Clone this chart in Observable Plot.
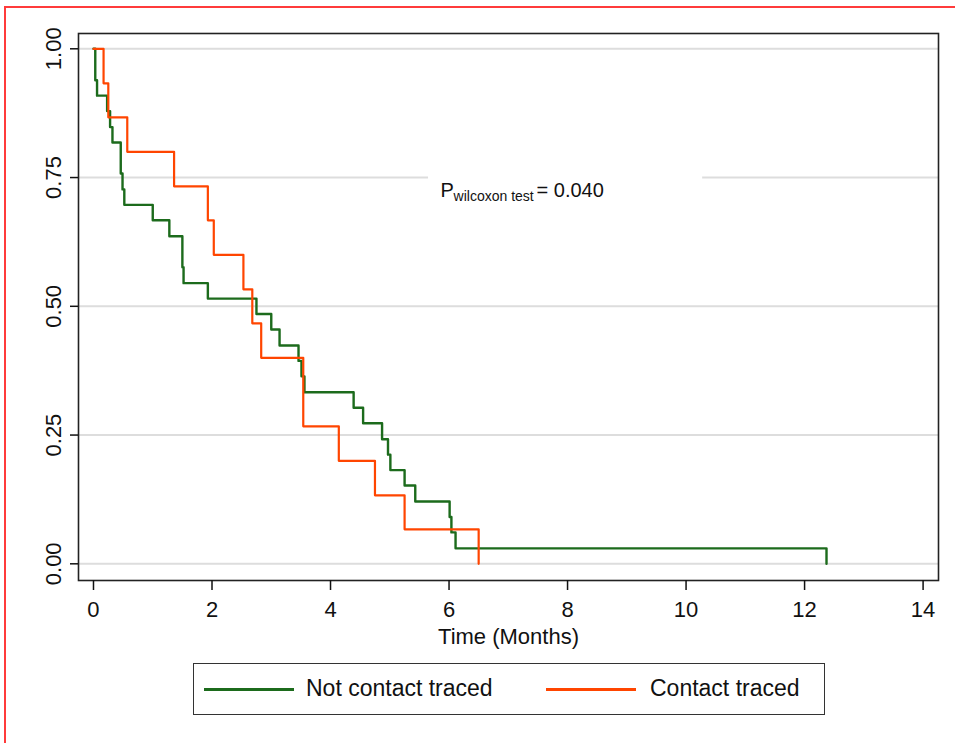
<!DOCTYPE html>
<html>
<head>
<meta charset="utf-8">
<script src="https://cdn.jsdelivr.net/npm/d3@7"></script>
<script src="https://cdn.jsdelivr.net/npm/@observablehq/plot@0.6"></script>
<style>
  html, body { margin: 0; padding: 0; background: #fff; }
  body { width: 955px; height: 743px; position: relative; overflow: hidden;
         font-family: "Liberation Sans", Arial, sans-serif; color: #111; }
  #chart { position: absolute; left: 0; top: 0; }
  #border { position: absolute; left: 4px; top: 6px; width: 1200px; height: 1000px;
            border-left: 2px solid #ff3b3b; border-top: 2px solid #ff3b3b; pointer-events: none; }
  #legend { position: absolute; left: 193px; top: 663px; width: 632px; height: 52px;
            box-sizing: border-box; border: 1.5px solid #333; background: #fff; }
  .sw { position: absolute; top: 24px; width: 90px; height: 2.5px; }
  .lb { position: absolute; top: 8px; font-size: 23px; line-height: 32px; white-space: nowrap; color: #111; }
</style>
</head>
<body>
<div id="chart"></div>
<div id="legend"></div>
<div id="border"></div>
<script>
// ---- data ----
const seriesNames = ["Not contact traced", "Contact traced"];
const seriesColors = ["#1c6b1c", "#ff4500"];

const greenTime = [0, 0.03, 0.06, 0.23, 0.28, 0.32, 0.46, 0.49, 0.52, 1.00,
                   1.28, 1.50, 1.52, 1.93, 2.75, 3.00, 3.14, 3.46, 3.51, 3.56,
                   4.39, 4.55, 4.87, 4.97, 5.01, 5.25, 5.43, 6.01, 6.04, 6.11, 12.37];
const greenSurv = [1.000, 0.939, 0.909, 0.879, 0.848, 0.818, 0.758, 0.727, 0.697, 0.667,
                   0.636, 0.576, 0.545, 0.515, 0.485, 0.455, 0.424, 0.394, 0.364, 0.333,
                   0.303, 0.273, 0.242, 0.212, 0.182, 0.152, 0.121, 0.091, 0.061, 0.030, 0.000];

const orangeTime = [0, 0.17, 0.25, 0.57, 1.36, 1.93, 2.03, 2.53, 2.68, 2.83, 3.54, 4.14, 4.75, 5.25, 6.50];
const orangeSurv = [1.000, 0.933, 0.867, 0.800, 0.733, 0.667, 0.600, 0.533, 0.467, 0.400, 0.267, 0.200, 0.133, 0.067, 0.000];

const xTicks = [0, 2, 4, 6, 8, 10, 12, 14];
const yTicks = [0, 0.25, 0.5, 0.75, 1];
const yTickLabels = ["0.00", "0.25", "0.50", "0.75", "1.00"];
const xLabel = "Time (Months)";
const annotMain = "P";
const annotSub = "wilcoxon test";
const annotValue = "= 0.040";

// ---- build ----
const greenData = greenTime.map((t, i) => ({t, s: greenSurv[i]}));
const orangeData = orangeTime.map((t, i) => ({t, s: orangeSurv[i]}));
const annotAt = {x: 5.857, y: 0.713};
const annotBox = [{x1: 5.654, x2: 10.28, y1: 0.70, y2: 0.80}];
const font = "Liberation Sans, Arial, sans-serif";

const chart = Plot.plot({
  width: 955,
  height: 660,
  marginLeft: 78,
  marginRight: 17,
  marginTop: 33,
  marginBottom: 80,
  style: {fontFamily: font, fontSize: "22px", background: "#fff", color: "#111"},
  x: {domain: [-0.253, 14.26]},
  y: {domain: [-0.0324, 1.0297]},
  marks: [
    Plot.ruleY(yTicks, {stroke: "#dddddd", strokeWidth: 2}),
    Plot.rect(annotBox, {x1: "x1", x2: "x2", y1: "y1", y2: "y2", fill: "#fff"}),
    Plot.line(greenData, {x: "t", y: "s", curve: "step-after", stroke: seriesColors[0], strokeWidth: 2.4}),
    Plot.line(orangeData, {x: "t", y: "s", curve: "step-after", stroke: seriesColors[1], strokeWidth: 2.2}),
    Plot.frame({stroke: "#222", strokeWidth: 1.6}),
    Plot.axisX(xTicks, {tickSize: 10, tickPadding: 11, fontSize: 22, strokeWidth: 1.5, label: null}),
    Plot.axisY(yTicks, {tickSize: 8, tickFormat: () => "", strokeWidth: 1.5, label: null}),
    Plot.text(yTicks, {y: d => d, frameAnchor: "left", text: (d, i) => yTickLabels[i],
                       rotate: -90, dx: -18, lineAnchor: "bottom", textAnchor: "middle", fontSize: 22}),
    Plot.text([xLabel], {frameAnchor: "bottom", text: d => d, dy: 63, fontSize: 22}),
    Plot.text([annotMain], {x: () => annotAt.x, y: () => annotAt.y, text: d => d, textAnchor: "start",
                            lineAnchor: "bottom", fontSize: 20}),
    Plot.text([annotSub], {x: () => annotAt.x, y: () => annotAt.y, text: d => d, textAnchor: "start",
                           lineAnchor: "bottom", fontSize: 14, dx: 13, dy: 4}),
    Plot.text([annotValue], {x: () => annotAt.x, y: () => annotAt.y, text: d => d, textAnchor: "start",
                             lineAnchor: "bottom", fontSize: 20, dx: 96})
  ]
});
document.getElementById("chart").appendChild(chart);

// ---- legend ----
const legend = document.getElementById("legend");
const swLeft = [10, 352];
const lbLeft = [112, 456];
seriesNames.forEach((name, i) => {
  const sw = document.createElement("div");
  sw.className = "sw";
  sw.style.left = swLeft[i] + "px";
  sw.style.background = seriesColors[i];
  legend.appendChild(sw);
  const lb = document.createElement("div");
  lb.className = "lb";
  lb.style.left = lbLeft[i] + "px";
  lb.textContent = name;
  legend.appendChild(lb);
});
</script>
</body>
</html>
